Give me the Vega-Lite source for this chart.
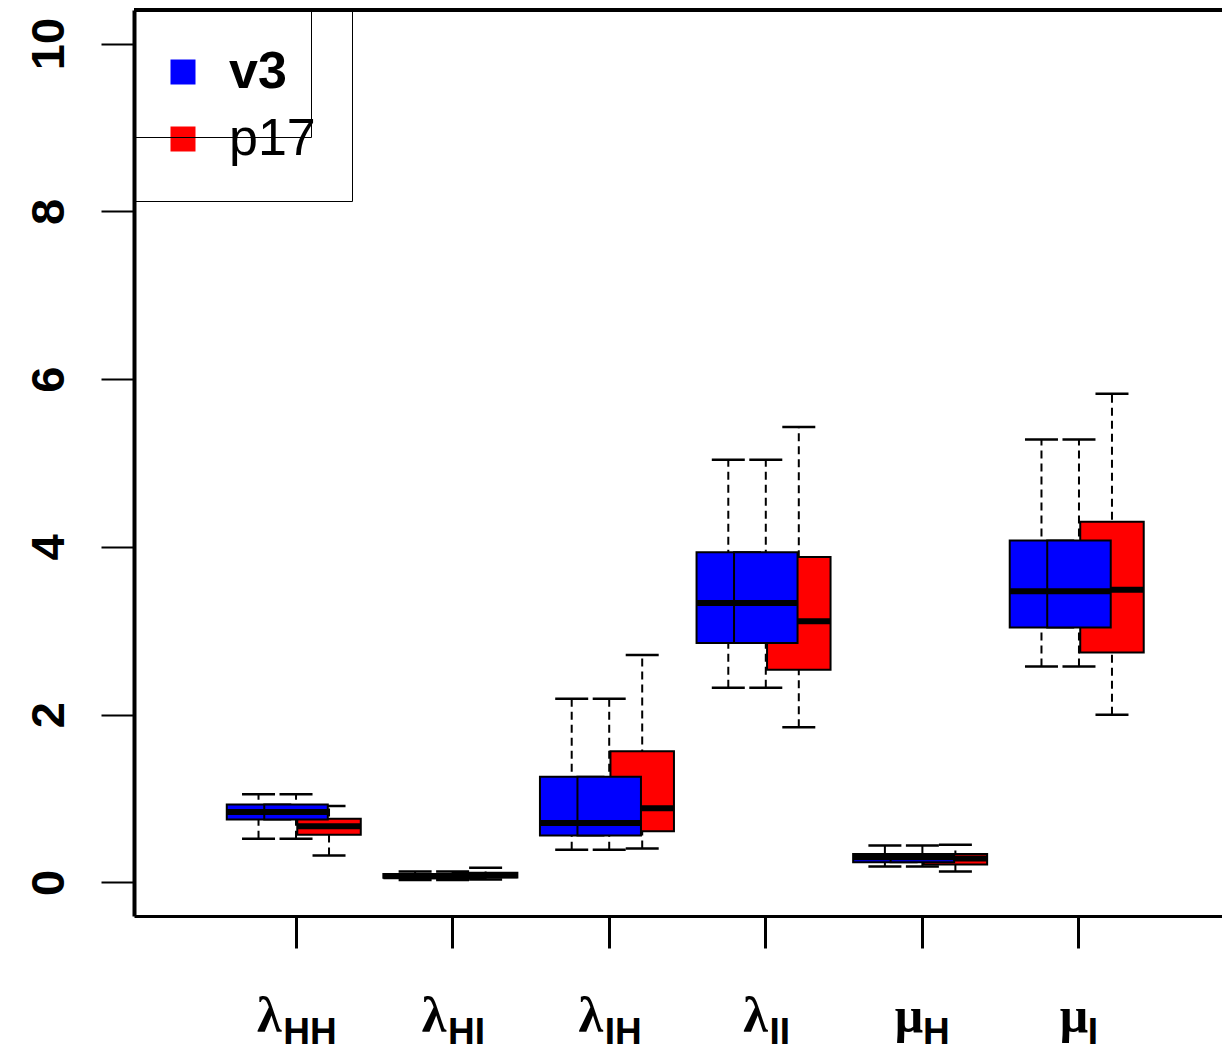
{
 "$schema": "https://vega.github.io/schema/vega-lite/v6.json",
 "width": 1088, "height": 906,
 "autosize": {"type": "none"},
 "padding": {"left": 134, "top": 10, "right": 0, "bottom": 131},
 "background": "white",
 "config": {"view": {"stroke": null}, "axis": {"grid": false}},
 "datasets": {
  "stats": [
   {"param":"λHH","series":"v3","lower":0.52,"q1":0.75,"median":0.84,"q3":0.93,"upper":1.05},
   {"param":"λHH","series":"p17","lower":0.32,"q1":0.57,"median":0.67,"q3":0.76,"upper":0.91},
   {"param":"λHI","series":"v3","lower":0.03,"q1":0.055,"median":0.075,"q3":0.1,"upper":0.13},
   {"param":"λHI","series":"p17","lower":0.035,"q1":0.06,"median":0.085,"q3":0.115,"upper":0.175},
   {"param":"λIH","series":"v3","lower":0.39,"q1":0.56,"median":0.71,"q3":1.26,"upper":2.19},
   {"param":"λIH","series":"p17","lower":0.405,"q1":0.61,"median":0.885,"q3":1.565,"upper":2.71},
   {"param":"λII","series":"v3","lower":2.32,"q1":2.855,"median":3.33,"q3":3.935,"upper":5.04},
   {"param":"λII","series":"p17","lower":1.85,"q1":2.535,"median":3.115,"q3":3.88,"upper":5.43},
   {"param":"μH","series":"v3","lower":0.19,"q1":0.24,"median":0.3,"q3":0.34,"upper":0.44},
   {"param":"μH","series":"p17","lower":0.13,"q1":0.215,"median":0.285,"q3":0.34,"upper":0.45},
   {"param":"μI","series":"v3","lower":2.575,"q1":3.04,"median":3.47,"q3":4.075,"upper":5.28},
   {"param":"μI","series":"p17","lower":2.0,"q1":2.74,"median":3.49,"q3":4.3,"upper":5.825}
  ],
  "labels": [
   {"param":"λHH","g":"λ","sub":"HH"},
   {"param":"λHI","g":"λ","sub":"HI"},
   {"param":"λIH","g":"λ","sub":"IH"},
   {"param":"λII","g":"λ","sub":"II"},
   {"param":"μH","g":"μ","sub":"H"},
   {"param":"μI","g":"μ","sub":"I"}
  ]
 },
 "data": {"name": "stats"},
 "layer": [
  {"transform": [{"filter": "datum.series == 'p17'"}],
   "mark": {"type": "rule", "color": "black", "strokeWidth": 2, "strokeDash": [8, 5], "xOffset": 33, "opacity": 1},
   "encoding": {
    "x": {"field": "param", "type": "nominal", "title": null,
          "scale": {"type": "band", "domain": ["λHH","λHI","λIH","λII","μH","μI"], "paddingInner": 0, "paddingOuter": 0.474, "align": 0.564},
          "axis": {"labels": false, "title": null, "domainColor": "black", "domainWidth": 3, "tickColor": "black", "tickWidth": 3, "tickSize": 32, "bandPosition": 0.5, "grid": false}},
    "y": {"field": "lower", "type": "quantitative", "title": null,
          "scale": {"domain": [-0.4, 10.4], "nice": false, "zero": false},
          "axis": {"values": [0,2,4,6,8,10], "format": "d", "title": null, "domainColor": "black", "domainWidth": 4, "tickColor": "black", "tickWidth": 2, "tickSize": 33, "labelAngle": 270, "labelAlign": "center", "labelBaseline": "alphabetic", "labelFont": "Liberation Sans", "labelFontSize": 47, "labelFontWeight": "bold", "labelColor": "black", "labelPadding": 38, "labelOverlap": false, "labelFlush": false, "grid": false}},
    "y2": {"field": "upper"}}},
  {"mark": {"type": "rule", "color": "black", "strokeWidth": 3},
   "encoding": {"y": {"datum": 10.4, "type": "quantitative", "title": null}}},
  {"transform": [{"filter": "datum.series == 'p17'"}],
   "mark": {"type": "tick", "color": "black", "size": 33, "thickness": 2.5, "xOffset": 33, "opacity": 1},
   "encoding": {"x": {"field": "param", "type": "nominal", "title": null}, "y": {"field": "lower", "type": "quantitative", "title": null}}},
  {"transform": [{"filter": "datum.series == 'p17'"}],
   "mark": {"type": "tick", "color": "black", "size": 33, "thickness": 2.5, "xOffset": 33, "opacity": 1},
   "encoding": {"x": {"field": "param", "type": "nominal", "title": null}, "y": {"field": "upper", "type": "quantitative", "title": null}}},
  {"transform": [{"filter": "datum.series == 'p17'"}],
   "mark": {"type": "bar", "width": 63.5, "stroke": "black", "strokeWidth": 2, "xOffset": 33, "opacity": 1},
   "encoding": {"x": {"field": "param", "type": "nominal", "title": null}, "y": {"field": "q1", "type": "quantitative", "title": null}, "y2": {"field": "q3"},
    "color": {"field": "series", "type": "nominal", "scale": {"domain": ["v3","p17"], "range": ["#0000ff","#ff0000"]},
     "legend": {"orient": "none", "legendX": 0, "legendY": 0, "title": null, "padding": 36, "rowPadding": 15, "strokeColor": "black", "symbolType": "square", "symbolSize": 625, "symbolStrokeWidth": 0, "symbolOffset": -13, "labelOffset": 20, "labelFont": "Liberation Sans", "labelFontSize": 52, "labelColor": "black", "labelFontWeight": {"expr": "datum.label == 'v3' ? 'bold' : 'normal'"}}}}},
  {"transform": [{"filter": "datum.series == 'p17'"}],
   "mark": {"type": "tick", "color": "black", "size": 63.5, "thickness": 6, "xOffset": 33, "opacity": 1},
   "encoding": {"x": {"field": "param", "type": "nominal", "title": null}, "y": {"field": "median", "type": "quantitative", "title": null}}},

  {"transform": [{"filter": "datum.series == 'v3'"}],
   "mark": {"type": "rule", "color": "black", "strokeWidth": 2, "strokeDash": [8, 5], "xOffset": -37.5, "opacity": 1},
   "encoding": {"x": {"field": "param", "type": "nominal", "title": null}, "y": {"field": "lower", "type": "quantitative", "title": null}, "y2": {"field": "upper"}}},
  {"transform": [{"filter": "datum.series == 'v3'"}],
   "mark": {"type": "tick", "color": "black", "size": 33, "thickness": 2.5, "xOffset": -37.5, "opacity": 1},
   "encoding": {"x": {"field": "param", "type": "nominal", "title": null}, "y": {"field": "lower", "type": "quantitative", "title": null}}},
  {"transform": [{"filter": "datum.series == 'v3'"}],
   "mark": {"type": "tick", "color": "black", "size": 33, "thickness": 2.5, "xOffset": -37.5, "opacity": 1},
   "encoding": {"x": {"field": "param", "type": "nominal", "title": null}, "y": {"field": "upper", "type": "quantitative", "title": null}}},
  {"transform": [{"filter": "datum.series == 'v3'"}],
   "mark": {"type": "bar", "width": 63.5, "stroke": "black", "strokeWidth": 2, "xOffset": -37.5, "opacity": 1},
   "encoding": {"x": {"field": "param", "type": "nominal", "title": null}, "y": {"field": "q1", "type": "quantitative", "title": null}, "y2": {"field": "q3"},
    "color": {"field": "series", "type": "nominal",
     "legend": {"orient": "none", "legendX": 0, "legendY": 0, "title": null, "padding": 36, "rowPadding": 15, "strokeColor": "black", "symbolType": "square", "symbolSize": 625, "symbolStrokeWidth": 0, "symbolOffset": -13, "labelOffset": 20, "labelFont": "Liberation Sans", "labelFontSize": 52, "labelColor": "black", "labelFontWeight": {"expr": "datum.label == 'v3' ? 'bold' : 'normal'"}}}}},
  {"transform": [{"filter": "datum.series == 'v3'"}],
   "mark": {"type": "tick", "color": "black", "size": 63.5, "thickness": 6, "xOffset": -37.5, "opacity": 1},
   "encoding": {"x": {"field": "param", "type": "nominal", "title": null}, "y": {"field": "median", "type": "quantitative", "title": null}}},

  {"transform": [{"filter": "datum.series == 'v3'"}],
   "mark": {"type": "rule", "color": "black", "strokeWidth": 2, "strokeDash": [8, 5], "xOffset": 0, "opacity": 1},
   "encoding": {"x": {"field": "param", "type": "nominal", "title": null}, "y": {"field": "lower", "type": "quantitative", "title": null}, "y2": {"field": "upper"}}},
  {"transform": [{"filter": "datum.series == 'v3'"}],
   "mark": {"type": "tick", "color": "black", "size": 33, "thickness": 2.5, "xOffset": 0, "opacity": 1},
   "encoding": {"x": {"field": "param", "type": "nominal", "title": null}, "y": {"field": "lower", "type": "quantitative", "title": null}}},
  {"transform": [{"filter": "datum.series == 'v3'"}],
   "mark": {"type": "tick", "color": "black", "size": 33, "thickness": 2.5, "xOffset": 0, "opacity": 1},
   "encoding": {"x": {"field": "param", "type": "nominal", "title": null}, "y": {"field": "upper", "type": "quantitative", "title": null}}},
  {"transform": [{"filter": "datum.series == 'v3'"}],
   "mark": {"type": "bar", "width": 63.5, "stroke": "black", "strokeWidth": 2, "xOffset": 0, "opacity": 1},
   "encoding": {"x": {"field": "param", "type": "nominal", "title": null}, "y": {"field": "q1", "type": "quantitative", "title": null}, "y2": {"field": "q3"},
    "color": {"field": "series", "type": "nominal",
     "legend": {"orient": "none", "legendX": 0, "legendY": 0, "title": null, "padding": 36, "rowPadding": 15, "strokeColor": "black", "symbolType": "square", "symbolSize": 625, "symbolStrokeWidth": 0, "symbolOffset": -13, "labelOffset": 20, "labelFont": "Liberation Sans", "labelFontSize": 52, "labelColor": "black", "labelFontWeight": {"expr": "datum.label == 'v3' ? 'bold' : 'normal'"}}}}},
  {"transform": [{"filter": "datum.series == 'v3'"}],
   "mark": {"type": "tick", "color": "black", "size": 63.5, "thickness": 6, "xOffset": 0, "opacity": 1},
   "encoding": {"x": {"field": "param", "type": "nominal", "title": null}, "y": {"field": "median", "type": "quantitative", "title": null}}},

  {"data": {"name": "labels"},
   "mark": {"type": "point", "opacity": 0, "filled": true},
   "encoding": {"x": {"field": "param", "type": "nominal", "title": null}, "y": {"datum": 0, "type": "quantitative", "title": null},
    "shape": {"field": "g", "type": "nominal",
     "legend": {"orient": "none", "legendX": 0, "legendY": 0, "title": null, "padding": 10, "rowPadding": 27, "strokeColor": "black", "symbolSize": 400, "symbolOpacity": 0, "symbolStrokeWidth": 0, "labelOffset": 117, "labelExpr": "' '", "labelFont": "Liberation Sans", "labelFontSize": 40, "labelOpacity": 0}}}},

  {"data": {"name": "labels"},
   "mark": {"type": "text", "font": "Liberation Serif", "fontSize": 50, "fontWeight": "bold", "align": "center", "baseline": "alphabetic", "dy": 116, "color": "black",
    "dx": {"expr": "-(26.7*length(replace(datum.sub, regexp('I','g'), '')) + 10.3*length(replace(datum.sub, regexp('H','g'), '')))/2"}},
   "encoding": {"x": {"field": "param", "type": "nominal", "title": null}, "y": {"datum": -0.4, "type": "quantitative", "title": null}, "text": {"field": "g"}}},
  {"data": {"name": "labels"},
   "mark": {"type": "text", "font": "Liberation Sans", "fontSize": 37, "fontWeight": "bold", "align": "center", "baseline": "alphabetic", "dy": 127.6, "dx": 14, "color": "black"},
   "encoding": {"x": {"field": "param", "type": "nominal", "title": null}, "y": {"datum": -0.4, "type": "quantitative", "title": null}, "text": {"field": "sub"}}}
 ]
}
